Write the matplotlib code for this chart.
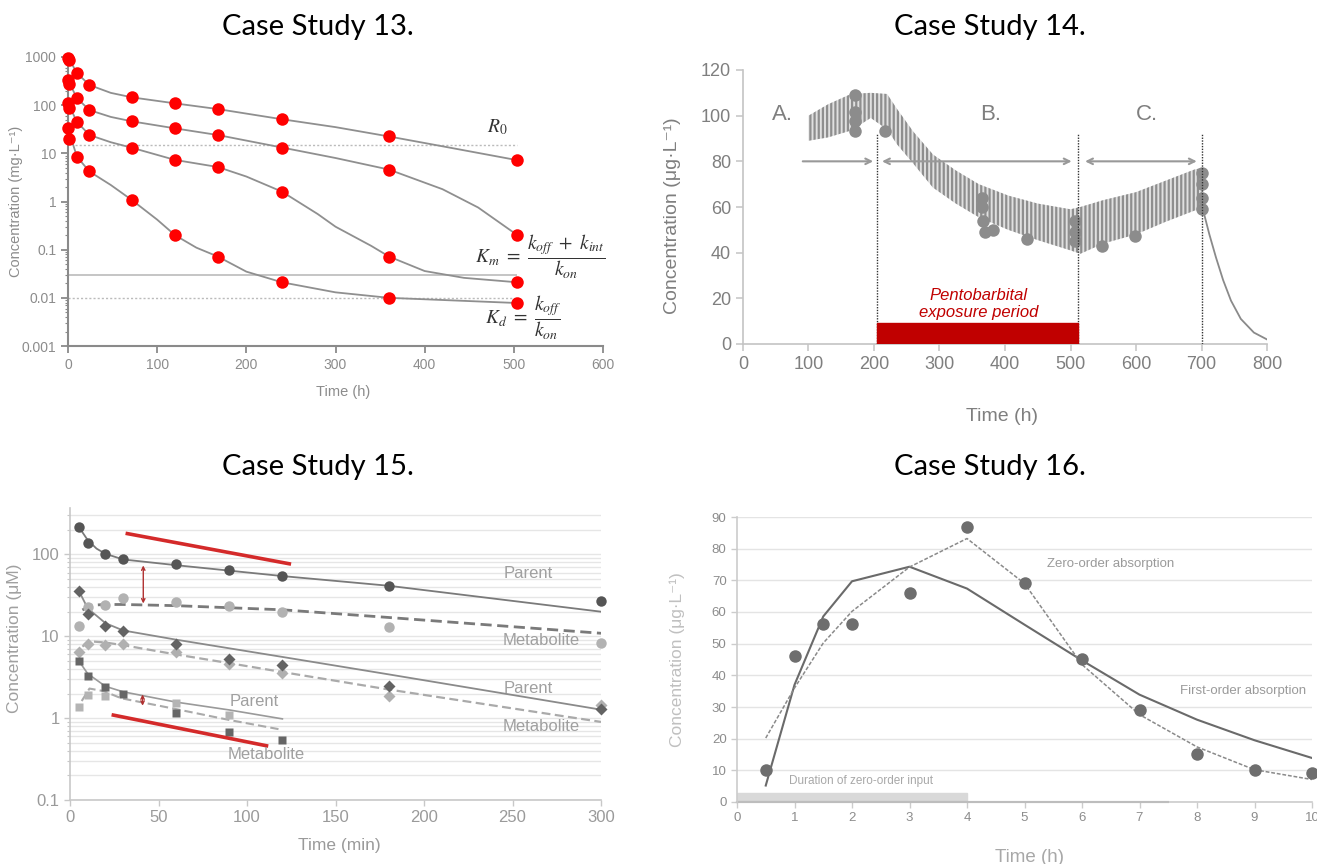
import matplotlib.pyplot as plt
import matplotlib.patches as patches
from matplotlib.ticker import NullFormatter

plt.rcParams['font.family'] = ['Liberation Sans', 'DejaVu Sans']
plt.rcParams['mathtext.fontset'] = 'stix'
plt.rcParams['hatch.linewidth'] = 1.6

W, H = 1317, 864


def box(x0, y0, x1, y1):
    # pixel box -> figure fraction rect
    return [x0 / W, 1 - y1 / H, (x1 - x0) / W, (y1 - y0) / H]


# ---- Case Study 13 ----
t13 = [0, 1, 10, 24, 72, 120, 168, 240, 360, 504]
c13_a = [950, 850, 464, 262, 145, 109, 83, 51, 22.4, 7.2]
c13_b = [330, 280, 140, 79, 46, 33, 24, 13.2, 4.6, 0.20]
c13_c = [110, 88, 45, 24, 13, 7.3, 5.2, 1.6, 0.072, 0.021]
c13_d = [33, 20, 8.5, 4.2, 1.06, 0.2, 0.072, 0.021, 0.01, 0.0078]
fit13_t_a = [0, 10, 24, 48, 72, 120, 168, 240, 300, 360, 420, 504]
fit13_a = [1000, 464, 262, 180, 145, 109, 83, 51, 35, 22.4, 14, 7.2]
fit13_t_b = [0, 10, 24, 48, 72, 120, 168, 240, 300, 360, 420, 460, 504]
fit13_b = [330, 140, 79, 57, 46, 33, 24, 13.2, 8, 4.6, 1.8, 0.75, 0.2]
fit13_t_c = [0, 10, 24, 48, 72, 120, 168, 200, 240, 280, 300, 340, 360, 400, 444, 504]
fit13_c = [110, 45, 24, 17, 13, 7.3, 5.2, 3.3, 1.6, 0.55, 0.3, 0.12, 0.072, 0.036, 0.026, 0.021]
fit13_t_d = [0, 10, 24, 48, 72, 100, 120, 144, 168, 200, 240, 300, 360, 504]
fit13_d = [33, 8.5, 4.2, 2.2, 1.06, 0.42, 0.2, 0.11, 0.072, 0.035, 0.021, 0.013, 0.01, 0.0078]
R0, Km, Kd = 15, 0.03, 0.01
ref_end13 = 504

# ---- Case Study 14 ----
t14_band = [100, 130, 165, 195, 220, 235, 260, 290, 325, 360, 405, 450, 500, 515, 550, 600, 645, 690, 700]
c14_hi = [100, 105, 109.5, 110, 109.5, 103, 93, 83, 76, 70, 65, 61.5, 59, 60, 63, 66.5, 71.5, 76.5, 77]
c14_lo = [89, 90.5, 93.5, 99, 94, 87.5, 79, 68.5, 61.5, 55.5, 50, 45.5, 41, 39.5, 44, 48, 53.5, 58.5, 59]
t14_decay = [700, 703, 712, 722, 733, 745, 760, 780, 800]
c14_decay = [66, 58, 48, 38, 28, 19, 11, 5, 2]
t14_obs = [171, 171, 171, 171, 217, 365, 365, 367, 370, 381, 433, 507, 507, 507, 548, 599, 700, 700, 700, 700]
c14_obs = [109, 101.5, 97.5, 93.5, 93.5, 64, 60, 54, 49, 50, 46, 54, 49, 45, 43, 47.5, 75, 70, 64, 59]
phase_bounds = [205, 512, 700]
phase_marker_top = 92
exposure = [205, 512]
exposure_height = 9
phase_arrows = [(87, 203, '->'), (208, 506, '<->'), (518, 697, '<->')]
arrow_level = 80
phase_labels = [('A.', 60), ('B.', 378), ('C.', 617)]

# ---- Case Study 15 ----
t15 = [5, 10, 20, 30, 60, 90, 120, 180, 300]
par_hi = [217, 139, 102, 88.5, 76, 65.4, 54.7, 41.2, 27.2]
met_hi = [13.2, 22.6, 24.3, 29.1, 26.5, 23.2, 20.1, 13.1, 8.3]
par_mid = [36.1, 18.7, 13.2, 11.7, 8.0, 5.24, 4.46, 2.44, 1.31]
met_mid = [6.4, 8.15, 7.9, 8.0, 6.45, 4.54, 3.52, 1.89, 1.43]
t15_lo = [5, 10, 20, 30, 60, 90, 120]
par_lo = [5.0, 3.25, 2.39, 1.96, 1.15, 0.67, 0.54]
t15_lo_met = [5, 10, 20, 60, 90]
met_lo = [1.36, 1.9, 1.87, 1.55, 1.09]
fit_t_par_hi = [5, 10, 15, 20, 30, 60, 120, 180, 300]
fit_par_hi = [217, 150, 118, 102, 87, 74, 54.5, 41.5, 20]
fit_t_met_hi = [7, 12, 20, 30, 60, 120, 180, 300]
fit_met_hi = [21, 24, 24.5, 24.5, 23.7, 21.1, 17, 10.9]
fit_t_par_mid = [5, 10, 20, 30, 60, 120, 180, 300]
fit_par_mid = [36, 22, 14.5, 11.8, 9.1, 5.6, 3.43, 1.27]
fit_t_met_mid = [7, 11, 20, 30, 60, 90, 120, 180, 300]
fit_met_mid = [7.5, 8.7, 8.4, 7.8, 6.0, 4.7, 3.66, 2.24, 0.9]
fit_t_par_lo = [5, 10, 20, 30, 60, 90, 120]
fit_par_lo = [5.0, 3.5, 2.45, 2.1, 1.57, 1.26, 0.98]
fit_t_met_lo = [6.6, 11, 19, 29, 60, 90, 120]
fit_met_lo = [1.62, 2.3, 2.14, 1.75, 1.29, 0.95, 0.72]
slope_hi = ([32.4, 123.9], [180, 77])
slope_lo = ([24.5, 111], [1.09, 0.46])
gap_hi = (41.4, 73.5, 25.2)
gap_lo = (41, 1.95, 1.42)
labels15 = [('Parent', 259, 59), ('Metabolite', 266, 8.9), ('Parent', 259, 2.3),
            ('Metabolite', 266, 0.78), ('Parent', 104, 1.62), ('Metabolite', 111, 0.36)]

# ---- Case Study 16 ----
t16 = [0.5, 1, 1.5, 2, 3, 4, 5, 6, 7, 8, 9, 10]
c16_obs = [10.2, 46, 56.1, 56.1, 65.9, 87, 69.1, 45.1, 29.2, 15.2, 10.2, 9.2]
c16_first = [5.2, 37, 58.6, 69.7, 74.3, 67.4, 56, 44.7, 33.9, 26, 19.5, 13.9]
c16_zero = [20.2, 36, 50.2, 60.2, 74.2, 83.2, 69, 43.4, 27.6, 17.4, 10.2, 7.1]
zero_input = [0, 4]
zero_input_height = 2.8
baseline_t = [0, 7.5]
baseline_c = [0, 0]

fig = plt.figure(figsize=(13.17, 8.64), dpi=100)

for x, y, s in [(318, 27, 'Case Study 13.'), (990, 27, 'Case Study 14.'),
                (318, 467, 'Case Study 15.'), (990, 467, 'Case Study 16.')]:
    fig.text(x / W, 1 - y / H, s, ha='center', va='center', fontsize=21,
             family=['Lato', 'DejaVu Sans'])

# panel 13
ax1 = fig.add_axes(box(68, 57, 603, 346))
ax1.set_yscale('log')
for ft, fc in [(fit13_t_a, fit13_a), (fit13_t_b, fit13_b), (fit13_t_c, fit13_c), (fit13_t_d, fit13_d)]:
    ax1.plot(ft, fc, color='#8f8f8f', lw=1.3, zorder=2)
ax1.hlines(R0, 8, ref_end13, color='#bbbbbb', lw=1, linestyles=(0, (1.5, 1.5)), zorder=1)
ax1.hlines(Km, 0, ref_end13, color='#bbbbbb', lw=1.2, zorder=1)
ax1.hlines(Kd, 0, ref_end13, color='#bbbbbb', lw=1, linestyles=(0, (1.5, 1.5)), zorder=1)
for c in [c13_a, c13_b, c13_c, c13_d]:
    ax1.plot(t13, c, 'o', color='#ff0000', ms=9, mec='none', zorder=3, clip_on=False)
ax1.text(481, 35, r'$R_0$', fontsize=14, ha='center', va='center', color='#333333')
ax1.text(530, 0.07, r'$K_m\ =\ \dfrac{k_{off}\ +\ k_{int}}{k_{on}}$', fontsize=14,
         ha='center', va='center', color='#333333')
ax1.text(510, 0.0038, r'$K_d\ =\ \dfrac{k_{off}}{k_{on}}$', fontsize=14,
         ha='center', va='center', color='#333333')
ax1.set_xlim(0, 600)
ax1.set_ylim(0.001, 1000)
ax1.set_xticks(range(0, 601, 100))
ax1.set_yticks([0.001, 0.01, 0.1, 1, 10, 100, 1000],
               labels=['0.001', '0.01', '0.1', '1', '10', '100', '1000'])
ax1.yaxis.set_minor_formatter(NullFormatter())
for s in ['top', 'right']:
    ax1.spines[s].set_visible(False)
for s in ['left', 'bottom']:
    ax1.spines[s].set_color('#8a8a8a')
    ax1.spines[s].set_linewidth(1.5)
ax1.tick_params(which='major', direction='out', length=5, width=1.3, color='#8a8a8a',
                labelcolor='#8c8c8c', labelsize=10)
ax1.tick_params(which='minor', direction='out', length=2.5, width=0.8, color='#8a8a8a')
ax1.set_xlabel('Time (h)', color='#8c8c8c', fontsize=10.5)
ax1.set_ylabel('Concentration (mg·L⁻¹)', color='#8c8c8c', fontsize=10.5)
ax1.xaxis.set_label_coords(0.514, -0.135)
ax1.yaxis.set_label_coords(-0.085, 0.5)

# panel 14
ax2 = fig.add_axes(box(743, 70, 1267, 344))
ax2.fill_between(t14_band, c14_lo, c14_hi, facecolor='#e0e0e0', edgecolor='#8e8e8e',
                 hatch='||||', linewidth=0, zorder=2)
ax2.plot(t14_decay, c14_decay, color='#8a8a8a', lw=1.3, zorder=2)
ax2.plot(t14_obs, c14_obs, 'o', color='#8c8c8c', ms=9, mec='none', zorder=3)
ax2.vlines(phase_bounds, 0, phase_marker_top, color='#333333', lw=1,
           linestyles=(0, (1, 1)), zorder=4)
ax2.add_patch(patches.Rectangle((exposure[0], 0), exposure[1] - exposure[0], exposure_height,
                                color='#c00000', zorder=4))
ax2.text(360, 17.5, 'Pentobarbital\nexposure period', ha='center', va='center',
         color='#c00000', fontsize=12, style='italic', linespacing=1.1)
for x0, x1, st in phase_arrows:
    ax2.annotate('', xy=(x1, arrow_level), xytext=(x0, arrow_level),
                 arrowprops=dict(arrowstyle=st, color='#999999', lw=1.5))
for s, x in phase_labels:
    ax2.text(x, 100.5, s, ha='center', va='center', fontsize=16, color='#7f7f7f')
ax2.set_xlim(0, 800)
ax2.set_ylim(0, 120)
ax2.set_xticks(range(0, 801, 100))
ax2.set_yticks(range(0, 121, 20))
for s in ['top', 'right']:
    ax2.spines[s].set_visible(False)
for s in ['left', 'bottom']:
    ax2.spines[s].set_color('#c4c4c4')
    ax2.spines[s].set_linewidth(1.2)
ax2.tick_params(direction='out', length=5, width=1.1, color='#c4c4c4',
                labelcolor='#7f7f7f', labelsize=13)
ax2.set_xlabel('Time (h)', color='#7f7f7f', fontsize=14)
ax2.set_ylabel('Concentration (μg·L⁻¹)', color='#7f7f7f', fontsize=14)
ax2.xaxis.set_label_coords(0.494, -0.233)
ax2.yaxis.set_label_coords(-0.118, 0.47)

# panel 15
ax3 = fig.add_axes(box(70, 508, 601, 800))
ax3.set_yscale('log')
ax3.yaxis.grid(True, which='both', color='#e6e6e6', lw=1)
ax3.set_axisbelow(True)
ax3.plot(fit_t_par_hi, fit_par_hi, color='#7a7a7a', lw=1.3)
ax3.plot(fit_t_met_hi, fit_met_hi, color='#7a7a7a', lw=2, dashes=(4, 2))
ax3.plot(fit_t_par_mid, fit_par_mid, color='#8a8a8a', lw=1.3)
ax3.plot(fit_t_met_mid, fit_met_mid, color='#aaaaaa', lw=1.6, dashes=(4, 2))
ax3.plot(fit_t_par_lo, fit_par_lo, color='#9a9a9a', lw=1.2)
ax3.plot(fit_t_met_lo, fit_met_lo, color='#aaaaaa', lw=1.5, dashes=(4, 2))
ax3.plot(t15, par_hi, 'o', color='#555555', ms=7.5, mec='none', clip_on=False)
ax3.plot(t15, met_hi, 'o', color='#b2b2b2', ms=7.5, mec='none', clip_on=False)
ax3.plot(t15, met_mid, 'D', color='#b0b0b0', ms=6, mec='none', clip_on=False)
ax3.plot(t15, par_mid, 'D', color='#636363', ms=6, mec='none', clip_on=False)
ax3.plot(t15_lo_met, met_lo, 's', color='#b4b4b4', ms=6, mec='none')
ax3.plot(t15_lo, par_lo, 's', color='#666666', ms=6, mec='none')
ax3.plot(slope_hi[0], slope_hi[1], color='#d42a2a', lw=2.6)
ax3.plot(slope_lo[0], slope_lo[1], color='#d42a2a', lw=2.6)
for x, y0, y1 in [gap_hi, gap_lo]:
    ax3.annotate('', xy=(x, y1), xytext=(x, y0),
                 arrowprops=dict(arrowstyle='<->', color='#b03030', lw=1,
                                 mutation_scale=6, shrinkA=0, shrinkB=0))
for s, x, y in labels15:
    ax3.text(x, y, s, ha='center', va='center', fontsize=12, color='#a0a0a0')
ax3.set_xlim(0, 300)
ax3.set_ylim(0.1, 370)
ax3.set_xticks(range(0, 301, 50))
ax3.set_yticks([0.1, 1, 10, 100], labels=['0.1', '1', '10', '100'])
ax3.yaxis.set_minor_formatter(NullFormatter())
for s in ['top', 'right']:
    ax3.spines[s].set_visible(False)
for s in ['left', 'bottom']:
    ax3.spines[s].set_color('#c8c8c8')
    ax3.spines[s].set_linewidth(1.2)
ax3.tick_params(which='major', direction='out', length=4, width=1, color='#c8c8c8',
                labelcolor='#9a9a9a', labelsize=12)
ax3.tick_params(which='minor', direction='out', length=2, width=0.8, color='#c8c8c8')
ax3.set_xlabel('Time (min)', color='#9a9a9a', fontsize=12.5)
ax3.set_ylabel('Concentration (μM)', color='#a0a0a0', fontsize=12.5)
ax3.xaxis.set_label_coords(0.507, -0.13)
ax3.yaxis.set_label_coords(-0.09, 0.555)

# panel 16
ax4 = fig.add_axes(box(737, 517, 1312, 802))
ax4.yaxis.grid(True, color='#e4e4e4', lw=1)
ax4.set_axisbelow(True)
ax4.add_patch(patches.Rectangle((zero_input[0], 0), zero_input[1] - zero_input[0],
                                zero_input_height, color='#d9d9d9', zorder=1))
ax4.plot(baseline_t, baseline_c, color='#777777', lw=1.5, zorder=2, clip_on=False)
ax4.plot(t16, c16_first, color='#6a6a6a', lw=1.5, zorder=3)
ax4.plot(t16, c16_zero, color='#8a8a8a', lw=1.1, dashes=(2.5, 1.2), zorder=3)
ax4.plot(t16, c16_obs, 'o', color='#6e6e6e', ms=9, mec='none', zorder=4, clip_on=False)
ax4.text(6.5, 75, 'Zero-order absorption', ha='center', va='center', fontsize=9.5, color='#9a9a9a')
ax4.text(8.8, 35, 'First-order absorption', ha='center', va='center', fontsize=9.5, color='#9a9a9a')
ax4.text(2.15, 6.5, 'Duration of zero-order input', ha='center', va='center', fontsize=8.5,
         color='#a8a8a8')
ax4.set_xlim(0, 10)
ax4.set_ylim(0, 90)
ax4.set_xticks(range(0, 11))
ax4.set_yticks(range(0, 91, 10))
for s in ['top', 'right']:
    ax4.spines[s].set_visible(False)
for s in ['left', 'bottom']:
    ax4.spines[s].set_color('#cccccc')
    ax4.spines[s].set_linewidth(1.2)
ax4.tick_params(direction='out', length=4, width=1, color='#cccccc',
                labelcolor='#8c8c8c', labelsize=9.5)
ax4.set_xlabel('Time (h)', color='#a8a8a8', fontsize=13.5)
ax4.set_ylabel('Concentration (μg·L⁻¹)', color='#c0c0c0', fontsize=12.5)
ax4.xaxis.set_label_coords(0.508, -0.165)
ax4.yaxis.set_label_coords(-0.09, 0.5)

fig.savefig('out.png', dpi=100)
